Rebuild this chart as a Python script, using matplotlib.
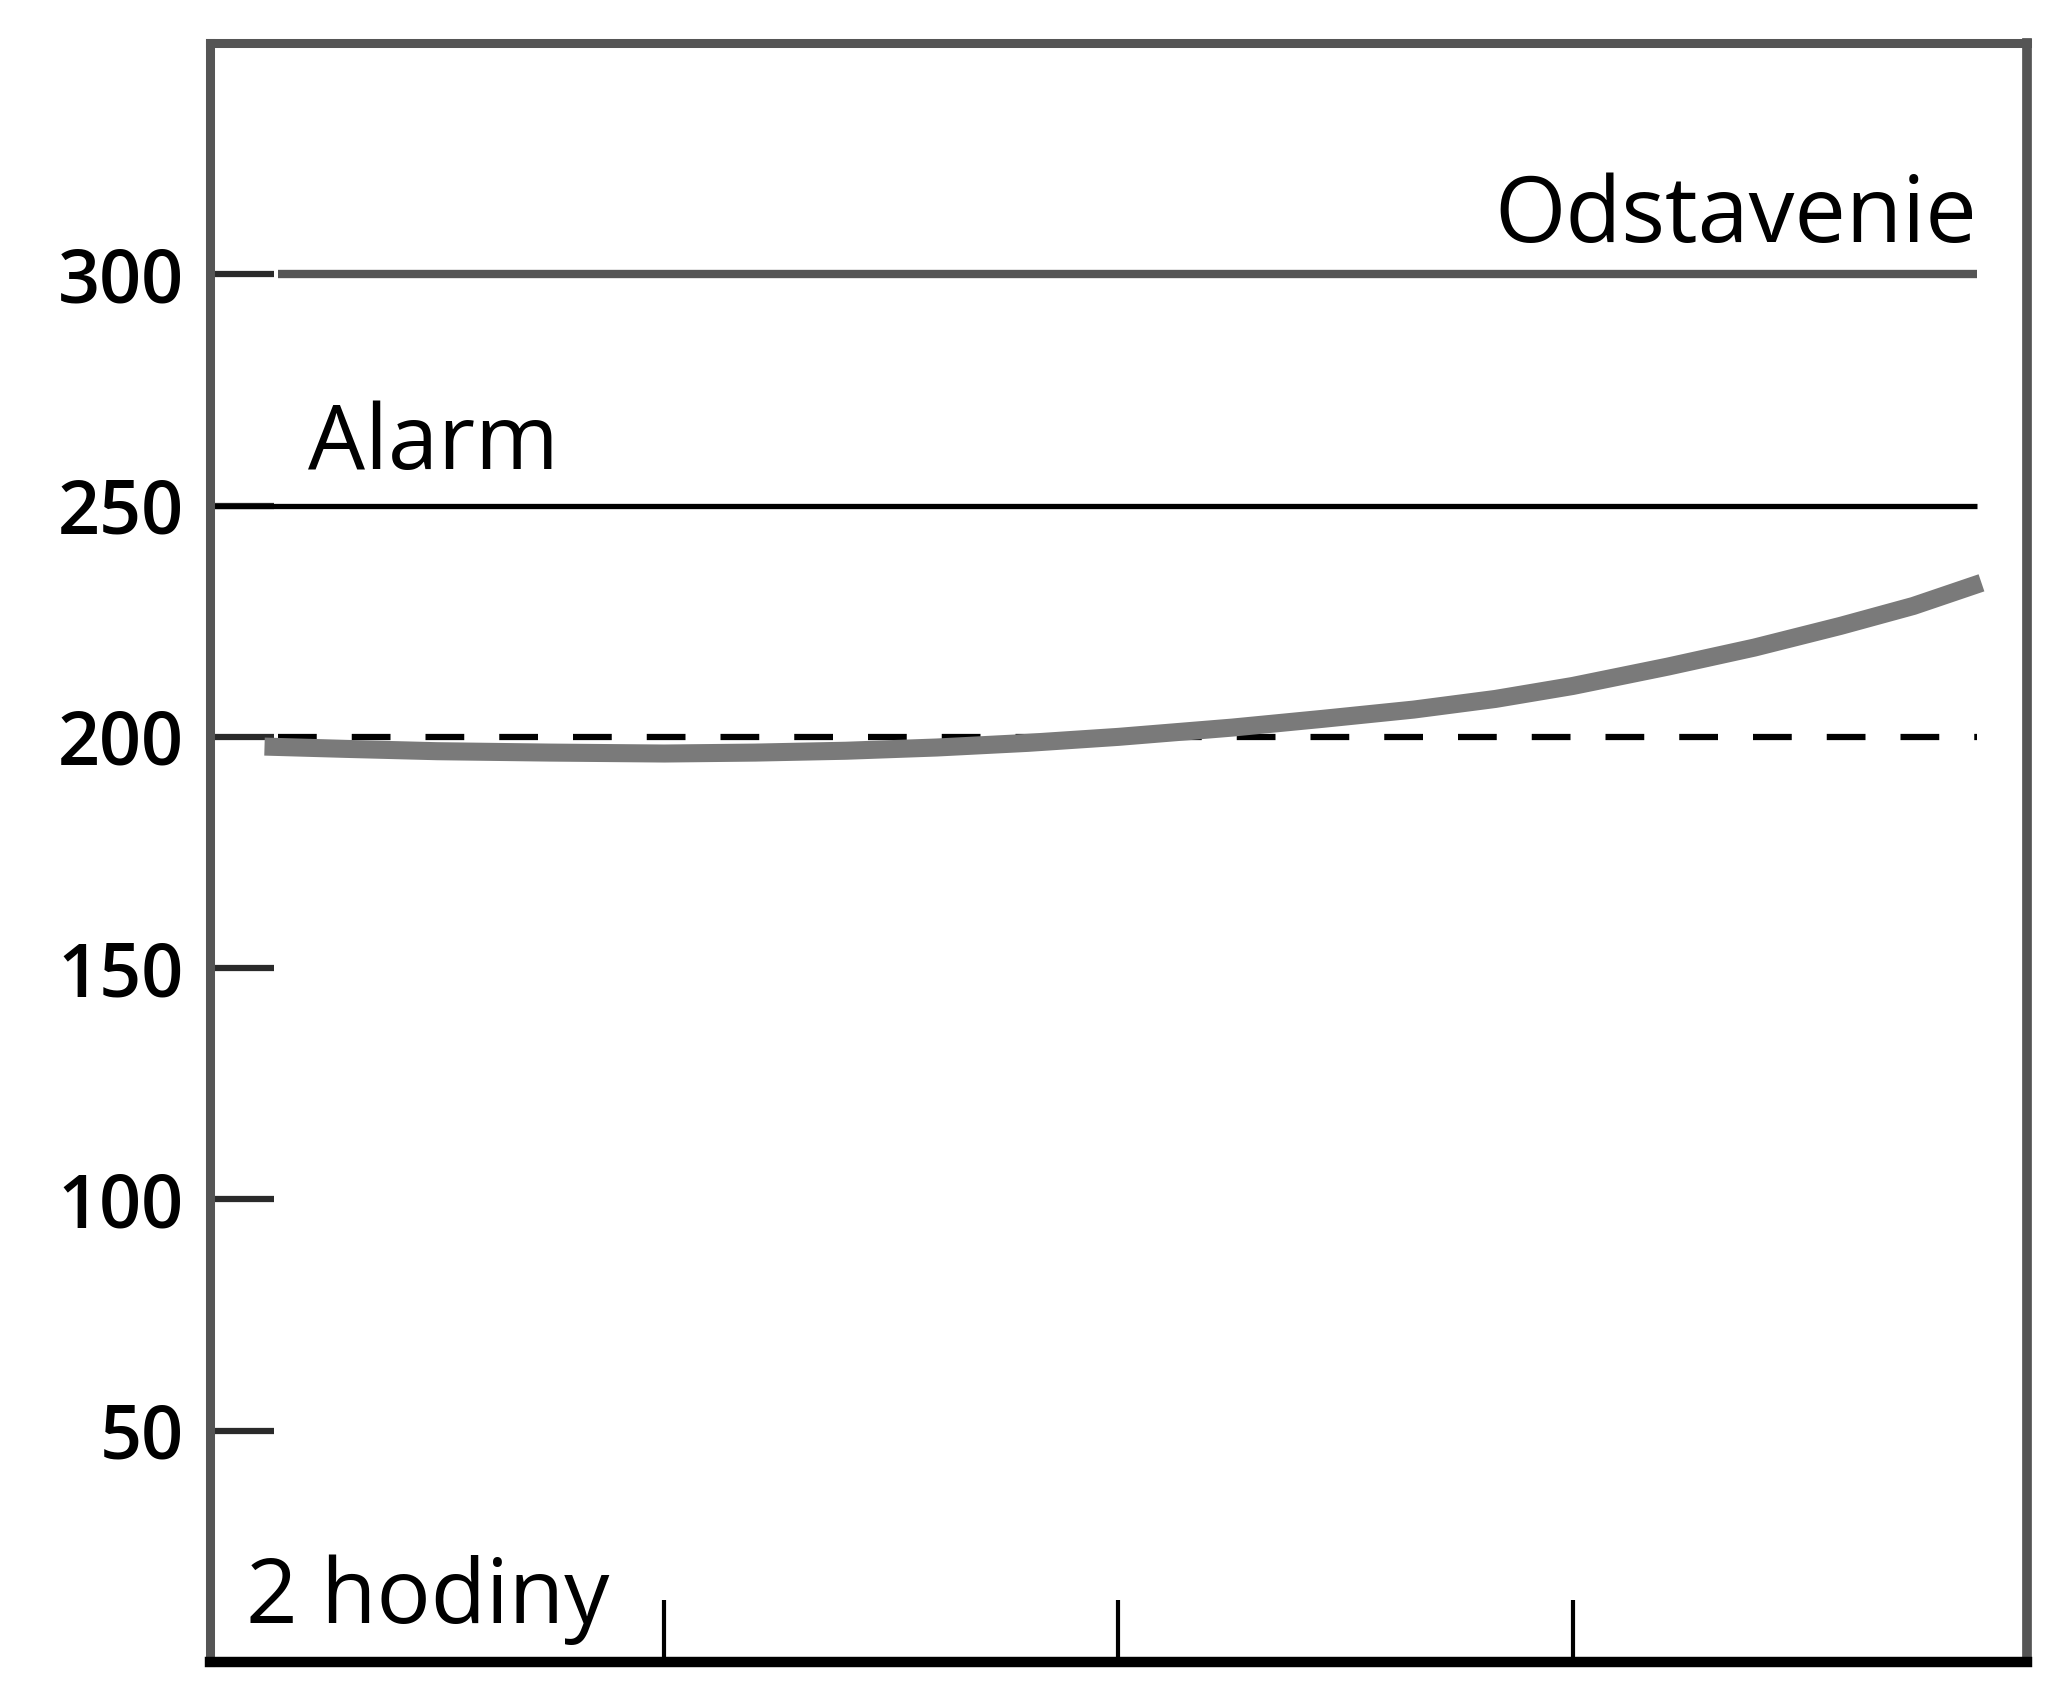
import matplotlib
matplotlib.use("Agg")
import matplotlib.pyplot as plt

# hodnoty odcitane z grafu (x v hodinach)
hours = [0.12, 0.3, 0.5, 0.75, 1.0, 1.2, 1.4, 1.6, 1.8, 2.0, 2.25,
         2.45, 2.65, 2.83, 3.0, 3.21, 3.4, 3.59, 3.75, 3.90]
values = [197.9, 197.4, 196.9, 196.6, 196.4, 196.6, 197.0, 197.7, 198.7, 200.0, 202.0,
          203.9, 205.9, 208.2, 211.0, 215.2, 219.3, 224.0, 228.3, 233.3]

shutdown_level = 300
alarm_level = 250
normal_level = 200

y_ticks = [0, 50, 100, 150, 200, 250, 300, 350]
y_labels = ["", "50", "100", "150", "200", "250", "300", ""]
x_ticks = [0, 1, 2, 3, 4]

label_shutdown = "Odstavenie"
label_alarm = "Alarm"
label_time = "2 hodiny"

text_font = ["Open Sans", "DejaVu Sans"]

fig = plt.figure(figsize=(20.67, 16.92), dpi=100)
ax = fig.add_axes([0.1016, 0.0177, 0.879, 0.9569])
ax.set_xlim(0, 4)
ax.set_ylim(0, 350)

# limitne ciary
ax.hlines(shutdown_level, 0.15, 3.89, color="#555555", lw=6)
ax.hlines(alarm_level, 0.0, 3.89, color="black", lw=3.8)
ax.hlines(normal_level, 0.15, 3.89, color="black", lw=4.5,
          linestyles=(0, (6.2, 5.6)))

# priebeh
ax.plot(hours, values, color="#7a7a7a", lw=13,
        solid_capstyle="butt", solid_joinstyle="round", zorder=3)

ax.text(3.89, shutdown_level + 7, label_shutdown, ha="right", va="baseline",
        fontsize=66, family=text_font)
ax.text(0.215, alarm_level + 8, label_alarm, ha="left", va="baseline",
        fontsize=65, family=text_font)
ax.text(0.08, 8.5, label_time, ha="left", va="baseline",
        fontsize=65, family=text_font)

ax.set_yticks(y_ticks)
ax.set_yticklabels(y_labels, fontsize=53, fontweight="semibold",
                   family=text_font)
ax.set_xticks(x_ticks)
ax.set_xticklabels([""] * len(x_ticks))
ax.tick_params(axis="y", direction="in", length=46, width=4.5,
               color="#2a2a2a", pad=19)
ax.tick_params(axis="x", direction="in", length=45, width=3,
               color="black")

ax.spines["left"].set_color("#555555")
ax.spines["left"].set_linewidth(6.5)
ax.spines["top"].set_color("#555555")
ax.spines["top"].set_linewidth(6.5)
ax.spines["right"].set_color("#555555")
ax.spines["right"].set_linewidth(7)
ax.spines["bottom"].set_color("black")
ax.spines["bottom"].set_linewidth(7.5)

fig.savefig("out.png", dpi=100, facecolor="white")
